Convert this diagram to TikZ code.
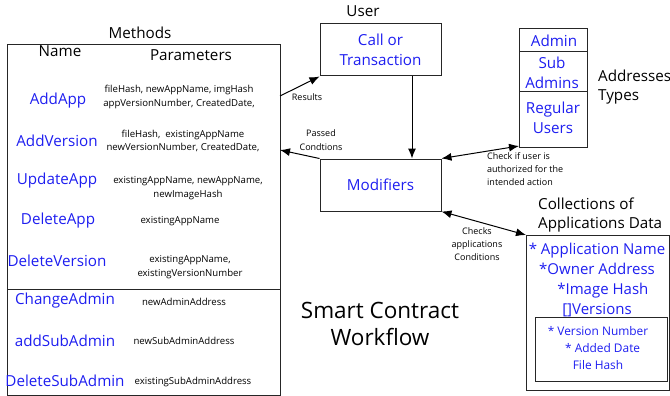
\documentclass[tikz,border=0pt]{standalone}
\usepackage{fontspec}
\setmainfont{Open Sans}
\usetikzlibrary{arrows.meta}
\definecolor{nameblue}{RGB}{30,30,240}
\tikzset{
  box/.style={draw=black!85, line width=1pt},
  nm/.style={text=nameblue, font=\fontsize{15.2}{19.5}\selectfont, inner sep=0pt},
  prm/.style={font=\fontsize{9.6}{13.5}\selectfont, align=center, inner sep=0pt},
  lbl/.style={font=\fontsize{9}{13.3}\selectfont, align=center, inner sep=0pt},
  ttl/.style={font=\fontsize{15.2}{19.5}\selectfont, inner sep=0pt},
  arr/.style={line width=1pt, -{Latex[length=10pt,width=8pt]}},
  darr/.style={line width=1pt, {Latex[length=10pt,width=8pt]}-{Latex[length=10pt,width=8pt]}}
}
\begin{document}
\begin{tikzpicture}[x=1pt,y=-1pt]
\useasboundingbox (0,0) rectangle (670,396);

% Methods table
\node[ttl] (methods) at (140,33) {Methods};
\draw[box] (7,45) rectangle (280,395);
\draw[box] (7,289) -- (280,289);
\coordinate (mr1) at (280,96);
\coordinate (mr2) at (280,150);
\node[ttl] (hname) at (60,51) {Name};
\node[ttl] (hpar) at (191,55) {Parameters};

\node[nm] (n1) at (58,101) {AddApp};
\node[prm] (p1) at (179,97) {fileHash, newAppName, imgHash\\appVersionNumber, CreatedDate,};
\node[nm] (n2) at (57,141) {AddVersion};
\node[prm] (p2) at (183,141) {fileHash,\ \ existingAppName\\newVersionNumber, CreatedDate,};
\node[nm] (n3) at (57,181) {UpdateApp};
\node[prm] (p3) at (188,188) {existingAppName, newAppName,\\newImageHash};
\node[nm] (n4) at (58,221) {DeleteApp};
\node[prm] (p4) at (180,221) {existingAppName};
\node[nm] (n5) at (57,261) {DeleteVersion};
\node[prm] (p5) at (190,267) {existingAppName,\\existingVersionNumber};
\node[nm] (n6) at (65,301) {ChangeAdmin};
\node[prm] (p6) at (184,302) {newAdminAddress};
\node[nm] (n7) at (65,341) {addSubAdmin};
\node[prm] (p7) at (184,341) {newSubAdminAddress};
\node[nm] (n8) at (65,381) {DeleteSubAdmin};
\node[prm] (p8) at (193,382) {existingSubAdminAddress};

% User call and modifiers
\node[ttl] (user) at (363,11) {User};
\node[box, minimum width=121pt, minimum height=52pt, align=center, text=nameblue,
      font=\fontsize{15.2}{19.5}\selectfont] (call) at (380.5,50) {Call or\\Transaction};
\node[box, minimum width=121pt, minimum height=52pt, text=nameblue,
      font=\fontsize{15.2}{19.5}\selectfont] (mod) at (380.5,185) {Modifiers};

\draw[arr] (call.south -| 412,0) -- (mod.north -| 412,0);
\draw[arr] (mr1) -- (call.south west);
\node[lbl] (res) at (307,97) {Results};
\draw[arr] (mod.north west) -- (mr2);
\node[lbl] (pass) at (321,140) {Passed\\Condtions};

% Address types
\draw[box] (519,29) rectangle (587,147);
\draw[box] (519,52) -- (587,52);
\draw[box] (519,92) -- (587,92);
\coordinate (addr) at (519,146);
\node[nm] (admin) at (554,41) {Admin};
\node[nm, align=center] (sub) at (552,73) {Sub\\Admins};
\node[nm, align=center] (reg) at (553,118) {Regular\\Users};
\node[ttl, align=left, anchor=west] (types) at (598,87) {Addresses\\Types};
\draw[darr] (mod.north east) -- (addr);
\node[lbl, align=left, anchor=north west] (chk) at (487,152) {Check if user is\\authorized for the\\intended action};

% Collections of applications data
\node[ttl, align=left, anchor=west] (coll) at (538,215) {Collections of\\Applications Data};
\draw[box] (526,235) rectangle (669.5,390);
\draw[box] (535,317) rectangle (667,381);
\coordinate (cbox) at (526,235);
\draw[darr] (mod.south east) -- (cbox);
\node[lbl] (chk2) at (477,244) {Checks\\applications\\Conditions};
\node[nm, align=center, font=\fontsize{15}{20}\selectfont] (fields) at (597,280)
  {* Application Name\\*Owner Address\\\ \ \ *Image Hash\\{[]}Versions};
\node[nm, align=center, font=\fontsize{11.9}{16.7}\selectfont] (vfields) at (598,348)
  {* Version Number\\\ \ \ * Added Date\\File Hash};

% Title
\node[align=center, font=\fontsize{22.5}{27}\selectfont, inner sep=0pt] (title) at (380,324)
  {Smart Contract\\Workflow};
\end{tikzpicture}
\end{document}
